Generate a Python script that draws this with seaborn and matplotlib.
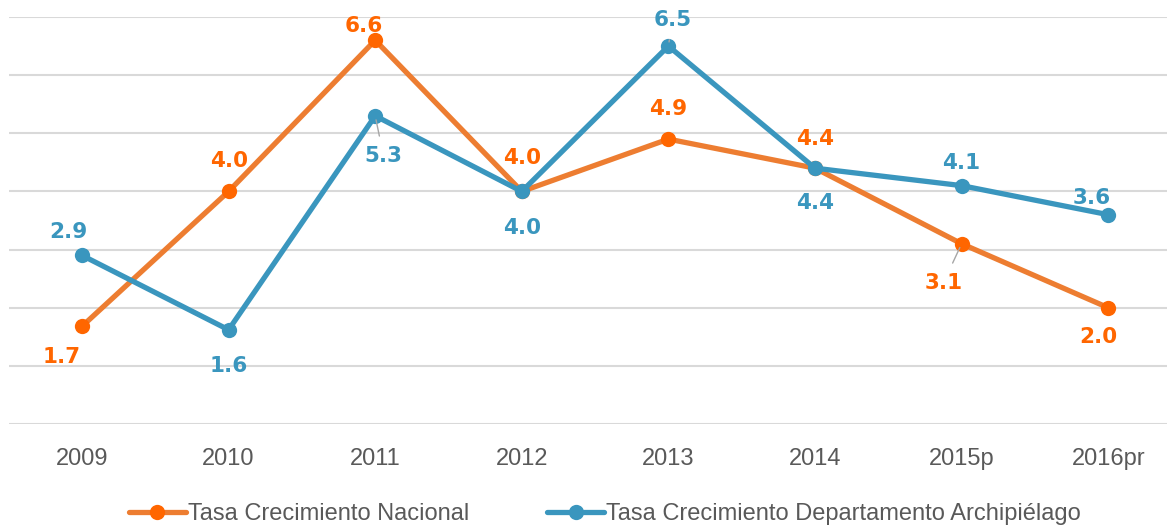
import numpy as np
import pandas as pd
import matplotlib
matplotlib.use('Agg')
import matplotlib.pyplot as plt
import seaborn as sns

# datos
anios = ['2009', '2010', '2011', '2012', '2013', '2014', '2015p', '2016pr']
nacional = [1.68, 4.0, 6.6, 4.0, 4.9, 4.4, 3.1, 2.0]
archipielago = [2.9, 1.62, 5.3, 4.0, 6.5, 4.4, 4.1, 3.6]
serie_nac = 'Tasa Crecimiento Nacional'
serie_arc = 'Tasa Crecimiento Departamento Archipiélago'

# desplazamiento de las etiquetas (puntos)
off_nac = [(-15, -22), (0, 22), (-8, 10), (0, 24), (0, 22), (0, 21), (-13, -28), (-7, -21)]
off_arc = [(-10, 17), (0, -26), (6, -29), (0, -26.5), (3, 19), (0, -25), (0, 16), (-12, 12)]
guia_nac = [False, False, False, False, False, False, True, False]
guia_arc = [False, False, True, False, True, False, False, False]

sns.set_style('white')
plt.rcParams['font.family'] = ['Liberation Sans', 'DejaVu Sans']

c_nac_line = '#ED7D31'
c_nac_pt = '#FF6600'
c_arc = '#3A96BE'

df = pd.DataFrame({'anio': anios, 'nac': nacional, 'arc': archipielago})

fig = plt.figure(figsize=(11.67, 5.26), dpi=100)
ax = fig.add_axes([8.7 / 1167, 102 / 526, 1172.8 / 1167, 407 / 526])

sns.lineplot(data=df, x='anio', y='nac', ax=ax, color=c_nac_line, lw=3.8,
             marker='o', markersize=11, markeredgewidth=0, sort=False, label=serie_nac, legend=False)
sns.lineplot(data=df, x='anio', y='arc', ax=ax, color=c_arc, lw=3.8,
             marker='o', markersize=11, markeredgewidth=0, sort=False, label=serie_arc, legend=False)
ax.lines[0].set_markerfacecolor(c_nac_pt)
ax.lines[1].set_markerfacecolor(c_arc)

ax.set_xlim(-0.5, 7.5)
ax.set_ylim(0, 7)
ax.set_yticks(np.arange(0, 8, 1))
ax.set_yticklabels([])
ax.grid(axis='y', color='#D9D9D9', lw=1.5)
ax.set_axisbelow(True)
for s in ax.spines.values():
    s.set_visible(False)
ax.tick_params(axis='x', length=0, pad=17, labelsize=17, labelcolor='#595959')
ax.tick_params(axis='y', length=0)
ax.set_xlabel('')
ax.set_ylabel('')

for serie, offs, guias, col in [(nacional, off_nac, guia_nac, c_nac_pt),
                                (archipielago, off_arc, guia_arc, c_arc)]:
    for i, v in enumerate(serie):
        arrow = None
        if guias[i]:
            arrow = dict(arrowstyle='-', color='#A6A6A6', lw=1, shrinkA=5, shrinkB=3)
        ax.annotate(f'{v:.1f}', xy=(i, v), xytext=offs[i], textcoords='offset points',
                    ha='center', va='center', fontsize=15.5, fontweight='bold',
                    color=col, family='DejaVu Sans', arrowprops=arrow)

fig.legend(ax.lines[:2], [serie_nac, serie_arc], loc='center', bbox_to_anchor=(605 / 1167, 12 / 526),
           ncol=2, frameon=False, fontsize=17, labelcolor='#595959',
           handlelength=2.4, handletextpad=0.1, columnspacing=3.3)

fig.savefig('out.png', dpi=100)
